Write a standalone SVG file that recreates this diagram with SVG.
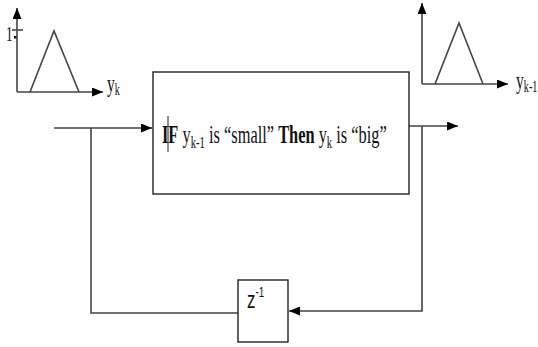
<svg xmlns="http://www.w3.org/2000/svg" width="538" height="347" viewBox="0 0 538 347">
  <style>
    .wire { fill: none; stroke: #444; stroke-width: 1.6; }
    .box { fill: #fff; stroke: #222; stroke-width: 1.4; }
    .ser { font-family: "Liberation Serif", "Times New Roman", serif; fill: #111; }
    .sans { font-family: "Liberation Sans", Arial, sans-serif; fill: #111; }
  </style>
  <defs>
    <marker id="arrow" viewBox="0 0 11 9" refX="11" refY="4.5" markerWidth="11" markerHeight="9" markerUnits="userSpaceOnUse" orient="auto">
      <path d="M0,0 L11,4.5 L0,9 Z" fill="#000"/>
    </marker>
  </defs>

  <!-- input membership function plot -->
  <g id="plot-in">
    <line class="wire" x1="17" y1="92" x2="17" y2="8" marker-end="url(#arrow)"/>
    <line class="wire" x1="17" y1="92" x2="103" y2="92" marker-end="url(#arrow)"/>
    <polyline class="wire" points="30,92 54,31 79,92"/>
    <line class="wire" x1="12" y1="30" x2="23" y2="30"/>
    <rect x="14" y="36" width="2.5" height="2.5" fill="#111"/>
    <text class="ser" transform="translate(6,41) scale(0.6,1)" font-size="22">1</text>
    <text class="ser" transform="translate(107,92) scale(0.6,1)" font-size="26">y<tspan font-size="17" dy="3">k</tspan></text>
  </g>

  <!-- output membership function plot -->
  <g id="plot-out">
    <line class="wire" x1="422" y1="84" x2="422" y2="3" marker-end="url(#arrow)"/>
    <line class="wire" x1="422" y1="84" x2="508" y2="84" marker-end="url(#arrow)"/>
    <polyline class="wire" points="435,84 459,23 483,84"/>
    <text class="ser" transform="translate(516,89) scale(0.6,1)" font-size="26">y<tspan font-size="17" dy="3">k-1</tspan></text>
  </g>

  <!-- connectors -->
  <g id="connectors">
    <line class="wire" x1="54" y1="128" x2="152" y2="128" marker-end="url(#arrow)"/>
    <polyline class="wire" points="91,128 91,313 238,313"/>
    <line class="wire" x1="409" y1="126" x2="458" y2="126" marker-end="url(#arrow)"/>
    <polyline class="wire" points="422,126 422,311 289,311" marker-end="url(#arrow)"/>
  </g>

  <!-- fuzzy rule block -->
  <g id="rule">
    <rect class="box" x="153" y="72" width="256" height="122"/>
    <text class="ser" transform="translate(162,143) scale(0.63,1)" font-size="26"><tspan font-weight="bold">IF</tspan> y<tspan font-size="17" dy="5">k-1</tspan><tspan dy="-5"> is “small” </tspan><tspan font-weight="bold">Then</tspan> y<tspan font-size="17" dy="5">k</tspan><tspan dy="-5"> is “big”</tspan></text>
    <line x1="168" y1="116" x2="168" y2="152" stroke="#222" stroke-width="1"/>
  </g>

  <!-- unit delay block -->
  <g id="delay">
    <rect class="box" x="238" y="280" width="50" height="62"/>
    <text class="sans" transform="translate(247,308) scale(0.7,1)" font-size="24">z<tspan font-size="14" dy="-11">-1</tspan></text>
  </g>
</svg>
